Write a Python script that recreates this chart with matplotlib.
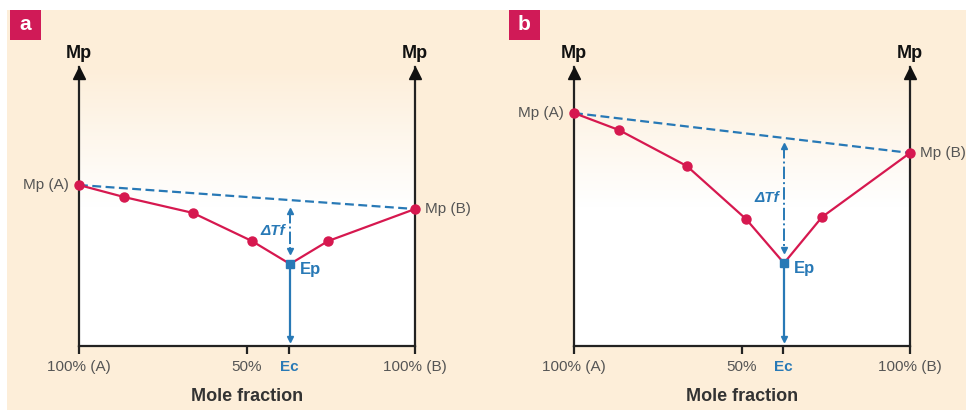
import numpy as np
import matplotlib
matplotlib.use('Agg')
import matplotlib.pyplot as plt
from matplotlib.patches import Rectangle

plt.rcParams['font.family'] = ['Liberation Sans Narrow', 'Liberation Sans', 'DejaVu Sans']

# x = mole fraction of B (0 = 100% A, 1 = 100% B), y = melting point (arbitrary units)
panel_names = ["a", "b"]
ec_pos = [0.625, 0.623]
xs_a = [0.0, 0.134, 0.339, 0.515, 0.628, 0.741, 1.0]
ys_a = [57.7, 53.4, 47.7, 37.6, 29.4, 37.6, 49.1]
xs_b = [0.0, 0.134, 0.336, 0.512, 0.625, 0.738, 1.0]
ys_b = [83.5, 77.4, 64.5, 45.5, 29.7, 46.2, 69.2]
dtf_a = [48.5, 34.0]   # delta Tf arrow top / bottom
dtf_b = [71.7, 34.4]
tick_pos = [0.0, 0.5, 1.0]
tick_labels = ["100% (A)", "50%", "100% (B)"]

red = "#d6184f"
blue = "#2879b6"
beige = "#fdeed9"
crimson = "#d01a57"
grey = "#555555"

W, H = 966, 412
fig = plt.figure(figsize=(W / 100, H / 100), dpi=100)
fig.patch.set_facecolor("white")
fig.patches.append(Rectangle((7 / W, 1 - 410 / H), 1, 400 / H, transform=fig.transFigure,
                             facecolor=beige, edgecolor="none", zorder=-5))

panels = [
    (79, xs_a, ys_a, ec_pos[0], dtf_a, 10),
    (574, xs_b, ys_b, ec_pos[1], dtf_b, 509),
]

for name, (left, xs, ys, ec, dtf, boxx) in zip(panel_names, panels):
    ax = fig.add_axes([left / W, (H - 346) / H, 336 / W, 279 / H])
    ax.set_xlim(0, 1)
    ax.set_ylim(0, 100)
    ax.set_facecolor("none")

    # soft gradient, beige at top to white at bottom
    grad = np.linspace(0, 1, 256).reshape(-1, 1)
    cmap = matplotlib.colors.LinearSegmentedColormap.from_list("g", ["white", "white", beige])
    ax.imshow(grad, extent=[0, 1, 0, 100], origin="lower", aspect="auto", cmap=cmap, zorder=0)

    ax.spines["top"].set_visible(False)
    for s in ["left", "right", "bottom"]:
        ax.spines[s].set_color("#222222")
        ax.spines[s].set_linewidth(1.6)
    ax.set_yticks([])
    ax.set_xticks(tick_pos + [ec])
    ax.set_xticklabels(tick_labels + ["Ec"])
    ax.tick_params(axis="x", length=6, width=1.6, color="#222222", pad=4, labelsize=11, labelcolor=grey)
    lbls = ax.get_xticklabels()
    lbls[-1].set_color(blue)
    lbls[-1].set_fontweight("bold")
    ax.get_xticklines()[-2].set_color(blue)

    # axis arrows and Mp labels
    ax.plot([0, 1], [98, 98], "^", color="#111111", ms=9, clip_on=False, zorder=5)
    for xx in [0, 1]:
        ax.text(xx, 105, "Mp", ha="center", va="center", fontsize=13, fontweight="bold",
                color="#111111", clip_on=False)

    ax.set_xlabel("Mole fraction", fontsize=13, fontweight="bold", color="#333333", labelpad=10)

    # ideal (dashed) line between pure melting points
    ax.plot([xs[0], xs[-1]], [ys[0], ys[-1]], "--", color=blue, lw=1.6, dashes=(4, 2), zorder=3)
    # measured melting curve
    ax.plot(xs, ys, "-", color=red, lw=1.6, zorder=4)
    pts = [i for i in range(len(xs)) if abs(xs[i] - ec) > 0.01]
    ax.plot([xs[i] for i in pts], [ys[i] for i in pts], "o", color=red, ms=6.5,
            clip_on=False, zorder=6)

    # eutectic point and composition
    iep = int(np.argmin(ys))
    ax.plot([xs[iep], xs[iep]], [ys[iep], 2.5], "-", color=blue, lw=1.6, zorder=4)
    ax.plot([xs[iep]], [2.5], "v", color=blue, ms=4, zorder=5)
    ax.plot([xs[iep]], [ys[iep]], "s", color=blue, ms=6, zorder=7)
    ax.text(xs[iep] + 0.03, ys[iep] - 2, "Ep", fontsize=12, fontweight="bold", color=blue,
            ha="left", va="center")

    # delta Tf arrow
    ax.plot([xs[iep], xs[iep]], dtf, "-.", color=blue, lw=1.4, zorder=4)
    ax.plot([xs[iep]], [dtf[0]], "^", color=blue, ms=4, zorder=5)
    ax.plot([xs[iep]], [dtf[1]], "v", color=blue, ms=4, zorder=5)
    ax.text(xs[iep] - 0.015, (dtf[0] + dtf[1]) / 2, "\u0394Tf", fontsize=11, fontstyle="italic",
            fontweight="bold", color=blue, ha="right", va="center")

    # pure component labels
    ax.text(-0.03, ys[0], "Mp (A)", fontsize=11, color=grey, ha="right", va="center", clip_on=False)
    ax.text(1.03, ys[-1], "Mp (B)", fontsize=11, color=grey, ha="left", va="center", clip_on=False)

    # panel letter box
    fig.patches.append(Rectangle((boxx / W, 1 - 40 / H), 31 / W, 30 / H, transform=fig.transFigure,
                                 facecolor=crimson, edgecolor="none", zorder=1))
    fig.text((boxx + 15.5) / W, 1 - 25 / H, name, fontsize=15, fontweight="bold",
             color="white", ha="center", va="center")

fig.savefig("out.png", dpi=100)
